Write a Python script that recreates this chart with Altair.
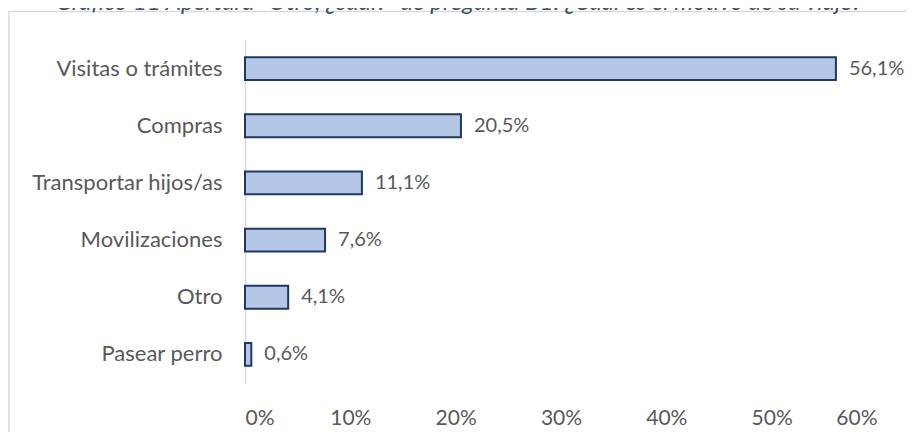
import altair as alt
import pandas as pd

categories = ["Visitas o trámites", "Compras", "Transportar hijos/as",
              "Movilizaciones", "Otro", "Pasear perro"]
values = [56.1, 20.5, 11.1, 7.6, 4.1, 0.6]
labels = [f"{v:.1f}%".replace(".", ",") for v in values]
x_ticks = [0, 10, 20, 30, 40, 50, 60]
title_text = "Gráfico 11 Apertura \"Otro, ¿cuál?\" de pregunta B1: ¿Cuál es el motivo de su viaje?"

df = pd.DataFrame({"cat": categories, "val": values, "lab": labels})

FONT = "Lato"
TXT = "#595959"

y_enc = alt.Y("cat:N", sort=categories,
              scale=alt.Scale(paddingInner=0.6, paddingOuter=0.3),
              axis=alt.Axis(title=None, ticks=False, labelPadding=23,
                            labelLimit=0,
                            labelFontSize=22, labelColor=TXT, labelFont=FONT,
                            domainColor="#D9D9D9", domainWidth=1.5, grid=False))
x_enc = alt.X("val:Q", scale=alt.Scale(domain=[0, 60], nice=False),
              axis=alt.Axis(title=None, values=x_ticks, ticks=False, domain=False,
                            grid=False, labelExpr="datum.value + '%'",
                            labelFontSize=21, labelColor=TXT, labelFont=FONT,
                            labelPadding=24))

bars = alt.Chart(df).mark_bar(color="#B4C7E7", stroke="#1F3864",
                              strokeWidth=2).encode(x=x_enc, y=y_enc)
text = alt.Chart(df).mark_text(align="left", baseline="middle", dx=13,
                               fontSize=20, font=FONT, color=TXT).encode(
    x="val:Q", y=alt.Y("cat:N", sort=categories), text="lab:N")

border = alt.Chart(pd.DataFrame({"a": [0]})).mark_rect(
    fill=None, stroke="#D9D9D9", strokeWidth=1.5).encode(
    x=alt.value(-236), x2=alt.value(700), y=alt.value(-28.5), y2=alt.value(420))

title = alt.Chart(pd.DataFrame({"t": [title_text]})).mark_text(
    align="center", baseline="alphabetic", fontSize=24, font=FONT,
    fontStyle="italic", color="#44546A").encode(
    x=alt.value(213.5), y=alt.value(-30), text="t:N")

chart = alt.layer(border, title, bars, text).properties(
    width=632, height=343,
    autosize=alt.AutoSizeParams(type="none"),
    padding={"left": 237, "top": 32, "right": 29, "bottom": 49},
).configure_view(stroke=None)

chart.save("out.html", embed_options={"renderer": "svg", "actions": False})
